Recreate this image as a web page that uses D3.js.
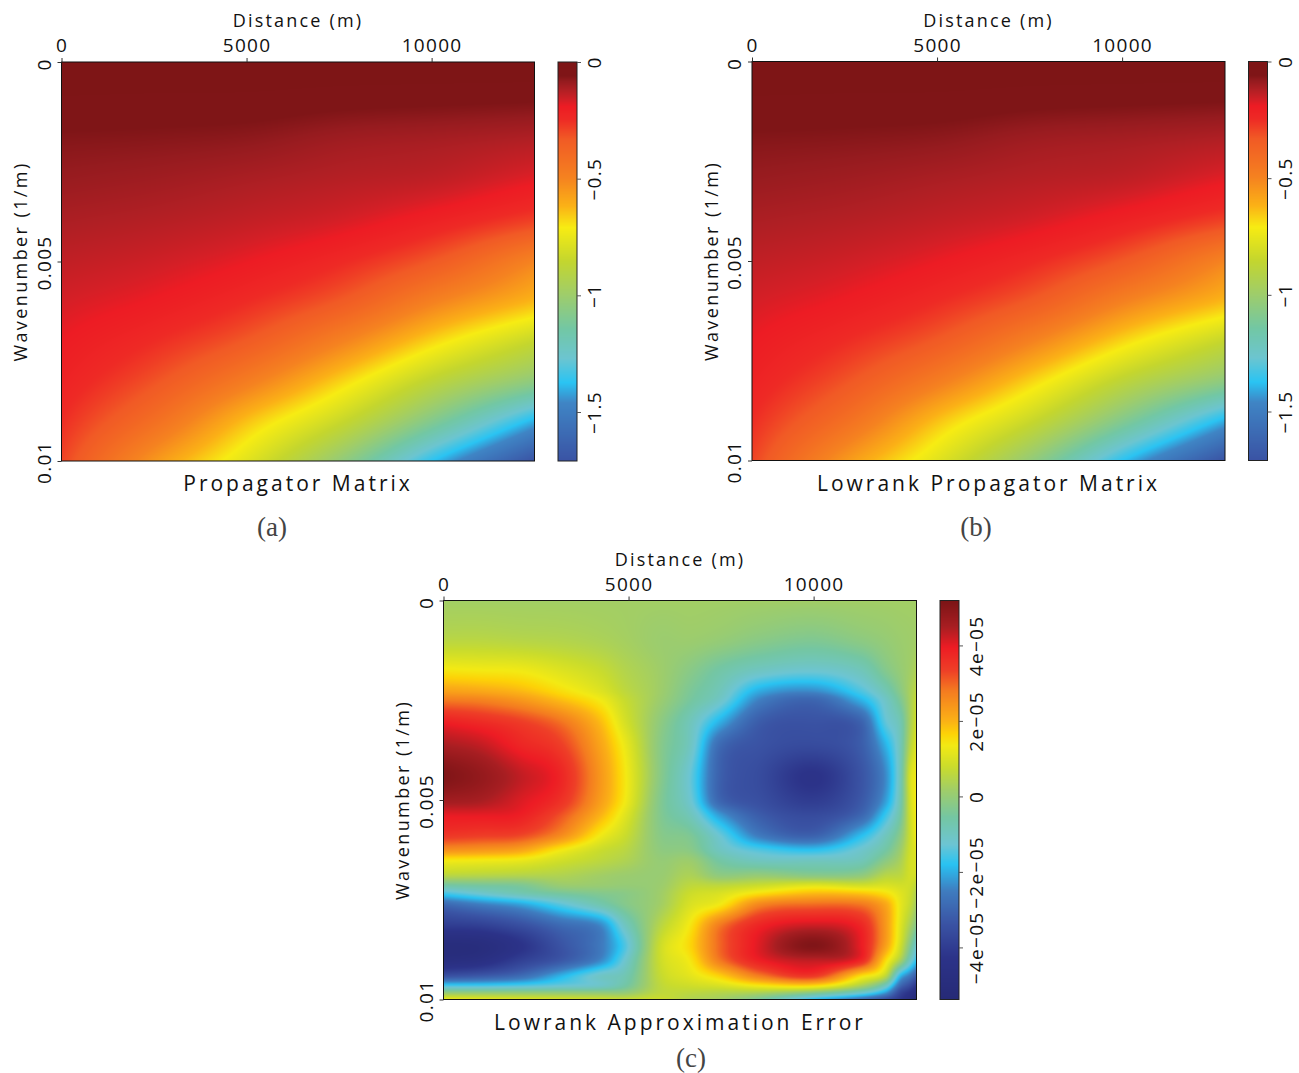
<!DOCTYPE html>
<html><head><meta charset="utf-8">
<style>html,body{margin:0;padding:0;background:#fff}svg{display:block}</style>
<script src="https://cdn.jsdelivr.net/npm/d3@7/dist/d3.min.js"></script>
</head><body><svg id="c" width="1299" height="1073"></svg>
<script>
// ---- data ----
const distanceTicks = [0, 5000, 10000];
const wavenumberTicks = [0, 0.005, 0.01];
const wavenumberLabels = ["0", "0.005", "0.01"];
const distanceMax = 12780;

// Propagator phase (panels a, b)
const propDistance = [0, 2556, 5112, 7668, 10224, 12780];
const propWavenumber = [0, .001, .002, .003, .004, .005, .006, .007, .008, .009, .01];
const propagatorValues = [
  [0, 0, 0, 0, 0, 0],
  [-.035, -.038, -.04, -.05, -.055, -.06],
  [-.068, -.072, -.08, -.10, -.11, -.125],
  [-.09, -.10, -.115, -.13, -.145, -.185],
  [-.115, -.127, -.145, -.17, -.22, -.29],
  [-.14, -.158, -.19, -.245, -.34, -.50],
  [-.165, -.195, -.25, -.34, -.50, -.63],
  [-.19, -.25, -.34, -.50, -.69, -.85],
  [-.215, -.32, -.48, -.68, -.89, -1.05],
  [-.25, -.42, -.65, -.85, -1.11, -1.40],
  [-.29, -.555, -.78, -1.05, -1.40, -1.71]
];
const lowrankValues = propagatorValues;

const propStops = [0, -.06, -.085, -.12, -.165, -.19, -.246, -.33, -.496, -.617, -.71, -.853, -.996, -1.146, -1.27, -1.374, -1.46, -1.71];
const propColors = ["#7e1516", "#7f1517", "#961b1f", "#b01f24", "#d41f26", "#ed1c24", "#ee2a25", "#f15a25", "#f58220", "#fbb116", "#f7ec13", "#c4d62e", "#9fcd6a", "#72c7a5", "#6cc5d0", "#2ac4f3", "#3f85c5", "#3a53a4"];
const propTicks = [0, -.5, -1, -1.5];
const propTickLabels = ["0", "\u22120.5", "\u22121", "\u22121.5"];

// Approximation error, units of 1e-5 (panel c)
const errDistance = [0, 985, 2068, 3149, 4230, 4905, 5851, 6662, 7473, 8554, 9986, 11257, 11932, 12338, 12608, 12780];
const errWavenumber = [0, .00099, .00174, .00225, .0025, .00305, .00363, .00438, .00501, .00538, .00588, .00625, .00651, .00689, .00714, .00734, .00764, .00814, .00864, .00902, .0094, .00965, .00982, .01];
const errorValues = [
  [.2,.2,.2,.2,.2,.2,.2,.2,.2,.2,.2,.2,.2,.2,.2,.2],
  [.55,.55,.5,.45,.35,.25,.1,.1,0,-.2,-.35,-.15,0,.1,.15,.2],
  [1.4,1.35,1.3,1.05,.75,.45,.15,-.2,-.6,-1,-1.2,-.9,-.3,0,.2,.4],
  [2.2,2.1,1.9,1.5,1.05,.6,.15,-.4,-.9,-2,-2.3,-1.5,-.8,-.2,.3,.6],
  [2.8,2.7,2.4,1.9,1.35,.75,.1,-.5,-1.1,-2.5,-3,-2,-1.1,-.4,.3,.75],
  [3.9,3.7,3.4,2.9,1.9,.95,-.1,-.9,-2,-3.2,-3.4,-3.1,-1.4,-.8,.3,.9],
  [4.5,4.3,3.8,3.4,2.2,1.25,-.2,-1,-2.9,-3.4,-3.6,-3.2,-2,-.9,.5,1.1],
  [5.1,4.8,4.3,3.8,2.4,1.4,-.2,-1.3,-3.1,-3.6,-4.3,-3.4,-2.4,-.9,.95,1.3],
  [4.6,4.5,4.1,3.6,2.3,1.35,-.3,-1.2,-3,-3.5,-4,-3.3,-2.2,-.8,.9,1.4],
  [4,4,3.9,3.2,2,1.1,-.3,-.9,-2.2,-3.2,-3.6,-3,-1.7,-.6,.85,1.35],
  [3.5,3.4,3.3,2.6,1.35,.8,-.2,-.4,-1.3,-2.6,-3.1,-1.9,-1,-.2,.8,1.3],
  [2.5,2.4,2.2,1.4,.8,.55,-.1,-.2,-1,-1.5,-1.8,-1.2,-.6,.1,.85,1.1],
  [1.4,1.35,1.25,.9,.6,.4,0,.1,-.6,-1,-1,-.9,-.2,.3,.9,1],
  [.55,.5,.45,.4,.2,.1,.05,.35,-.1,0,-.2,-.1,.5,.6,.9,.9],
  [-.6,-.5,-.4,.05,.05,0,.1,.6,.6,.8,1.1,.9,1,.9,.85,.6],
  [-1.6,-1.2,-.8,-.5,-.3,-.2,.15,.8,1,1.5,1.9,1.8,1.5,1.1,.8,.4],
  [-3,-2.6,-2.2,-1.5,-.8,-.3,.2,1,1.4,2.7,3,2.9,2.2,1.2,.7,.2],
  [-4,-3.9,-3.5,-2.9,-2.4,-1,.5,1.4,2.8,3.8,4.2,3.8,2.4,1.1,.3,-.3],
  [-5,-4.9,-4.3,-3.4,-2.6,-1.5,.8,1.6,3,4.1,5.1,4,2.3,.9,-.3,-1.2],
  [-4.8,-4.6,-3.9,-3.3,-2.4,-1.2,.8,1.4,2.8,3.9,4.3,3.8,1.6,.3,-1,-1.8],
  [-3.5,-3.3,-2.9,-2,-1.1,-.8,.7,1.15,1.7,2.8,3.5,1.6,.7,-1.8,-2.6,-3.2],
  [-1.6,-1.6,-1.5,-1.3,-1.1,-.6,.6,.85,1,1.4,1.6,.4,-.9,-2.9,-3.6,-4.2],
  [-.1,-.1,-.1,-.1,-.1,-.05,.6,.6,.5,.4,-.1,-1,-2.1,-3.7,-4.3,-4.8],
  [1.3,1.2,1.1,1,.9,.8,.8,.4,.2,-.5,-1.9,-2.9,-3.6,-4.2,-4.8,-5.3]
];
const errStops = [5.19, 4.49, 3.95, 3.34, 2.8, 2, 1.65, 1.35, .77, .15, -.56, -1.27, -1.8, -2.5, -3.39, -4.27, -5.38];
const errColors = ["#7b1416", "#a81e22", "#ed1c24", "#ee3f27", "#f47b20", "#fbb116", "#fdd307", "#f3ea14", "#c9dc2d", "#9fcd6a", "#74c6a3", "#6dc5d3", "#29c3f2", "#3f7dc0", "#3a53a4", "#2c3389", "#262a76"];
const errTicks = [4, 2, 0, -2, -4];
const errTickLabels = ["4e\u221205", "2e\u221205", "0", "\u22122e\u221205", "\u22124e\u221205"];

const panels = [
  {x0: 61.5, y0: 62, title: "Propagator Matrix", tag: "(a)", tagX: 272, tagY: 527, xs: propDistance, ys: propWavenumber, z: propagatorValues,
   stops: propStops, colors: propColors, vMax: 0, vMin: -1.71, ticks: propTicks, tickLabels: propTickLabels},
  {x0: 752, y0: 61.5, title: "Lowrank Propagator Matrix", tag: "(b)", tagX: 976, tagY: 527, xs: propDistance, ys: propWavenumber, z: lowrankValues,
   stops: propStops, colors: propColors, vMax: 0, vMin: -1.71, ticks: propTicks, tickLabels: propTickLabels},
  {x0: 443.5, y0: 600.5, title: "Lowrank Approximation Error", tag: "(c)", tagX: 691, tagY: 1058, xs: errDistance, ys: errWavenumber, z: errorValues,
   stops: errStops, colors: errColors, vMax: 5.19, vMin: -5.38, ticks: errTicks, tickLabels: errTickLabels}
];

// ---- drawing ----
const W = 473, H = 399, SANS = "'Open Sans','DejaVu Sans',sans-serif";
const svg = d3.select("#c");

function hermite(xs, ys, x) {
  const n = xs.length;
  let i = d3.bisectRight(xs, x) - 1;
  i = Math.max(0, Math.min(n - 2, i));
  const h = xs[i + 1] - xs[i], t = (x - xs[i]) / h;
  const slope = j => (ys[Math.min(n - 1, j + 1)] - ys[Math.max(0, j - 1)]) / (xs[Math.min(n - 1, j + 1)] - xs[Math.max(0, j - 1)]);
  const m0 = slope(i) * h, m1 = slope(i + 1) * h, t2 = t * t, t3 = t2 * t;
  return (2*t3 - 3*t2 + 1) * ys[i] + (t3 - 2*t2 + t) * m0 + (-2*t3 + 3*t2) * ys[i + 1] + (t3 - t2) * m1;
}

panels.forEach(p => {
  const g = svg.append("g").attr("transform", `translate(${p.x0},${p.y0})`);
  const xScale = d3.scaleLinear().domain([0, distanceMax]).range([0, W]);
  const yScale = d3.scaleLinear().domain([0, 0.01]).range([0, H]);
  const color = d3.scaleLinear().domain(p.stops.slice().reverse()).range(p.colors.slice().reverse()).interpolate(d3.interpolateRgb).clamp(true);

  // field image
  const cv = document.createElement("canvas"); cv.width = W; cv.height = H;
  const ctx = cv.getContext("2d"), img = ctx.createImageData(W, H);
  const nCols = p.xs.length;
  for (let py = 0; py < H; py++) {
    const k = yScale.invert(py + .5);
    const col = d3.range(nCols).map(c => hermite(p.ys, p.z.map(r => r[c]), k));
    for (let px = 0; px < W; px++) {
      const c = d3.rgb(color(hermite(p.xs, col, xScale.invert(px + .5))));
      const o = (py * W + px) * 4;
      img.data[o] = c.r; img.data[o+1] = c.g; img.data[o+2] = c.b; img.data[o+3] = 255;
    }
  }
  ctx.putImageData(img, 0, 0);
  g.append("image").attr("width", W).attr("height", H).attr("href", cv.toDataURL());
  g.append("rect").attr("width", W).attr("height", H).attr("fill", "none").attr("stroke", "#111").attr("stroke-width", 1);

  // axes
  const xAxis = d3.axisTop(xScale).tickValues(distanceTicks).tickFormat(d3.format("d")).tickSize(4).tickPadding(3);
  const ax = g.append("g").call(xAxis);
  ax.select(".domain").remove();
  ax.selectAll("line").attr("stroke", "#333");
  ax.selectAll("text").attr("font-family", SANS).attr("font-size", 19).attr("fill", "#111").attr("letter-spacing", 1.3).attr("y", -10);

  const yAxis = d3.axisLeft(yScale).tickValues(wavenumberTicks).tickFormat((d, i) => wavenumberLabels[i]).tickSize(4);
  const ay = g.append("g").call(yAxis);
  ay.select(".domain").remove();
  ay.selectAll("line").attr("stroke", "#333");
  ay.selectAll("text").attr("font-family", SANS).attr("font-size", 19).attr("fill", "#111").attr("letter-spacing", 1.3)
    .attr("text-anchor", "middle").attr("dy", 0).attr("x", 0).attr("y", 0)
    .attr("transform", d => `translate(-18,${d === 0 ? 2 : 1}) rotate(-90)`).attr("dominant-baseline", "central");

  const label = (t, x, y, size, ls, rot) => g.append("text").text(t).attr("text-anchor", "middle").attr("dominant-baseline", "central")
    .attr("font-family", SANS).attr("font-size", size).attr("letter-spacing", ls).attr("fill", "#111")
    .attr("transform", `translate(${x},${y})` + (rot ? " rotate(-90)" : ""));
  label("Distance (m)", W / 2, -42, 18, 2.2, false);
  label("Wavenumber (1/m)", -41.5, H / 2, 18, 2.4, true);
  label(p.title, W / 2, 421, 21, 3, false);

  svg.append("text").text(p.tag).attr("x", p.tagX).attr("y", p.tagY).attr("text-anchor", "middle").attr("dominant-baseline", "central")
    .attr("font-family", "'Liberation Serif',serif").attr("font-size", 27).attr("fill", "#444");

  // colour bar
  const cb = g.append("g").attr("transform", `translate(${W + 23.5},0)`);
  const barScale = d3.scaleLinear().domain([p.vMax, p.vMin]).range([0, H]);
  const bar = document.createElement("canvas"); bar.width = 1; bar.height = H;
  const bctx = bar.getContext("2d");
  d3.range(H).forEach(py => { bctx.fillStyle = color(barScale.invert(py + .5)); bctx.fillRect(0, py, 1, 1); });
  cb.append("image").attr("width", 19).attr("height", H).attr("preserveAspectRatio", "none").attr("href", bar.toDataURL());
  cb.append("rect").attr("width", 19).attr("height", H).attr("fill", "none").attr("stroke", "#222").attr("stroke-width", 1);
  const cAxis = d3.axisRight(barScale).tickValues(p.ticks).tickFormat((d, i) => p.tickLabels[i]).tickSize(4);
  const ac = cb.append("g").attr("transform", "translate(19,0)").call(cAxis);
  ac.select(".domain").remove();
  ac.selectAll("line").attr("stroke", "#555");
  ac.selectAll("text").attr("font-family", SANS).attr("font-size", 19).attr("fill", "#111").attr("letter-spacing", 1.3)
    .attr("text-anchor", "middle").attr("dy", 0).attr("x", 0).attr("y", 0).attr("dominant-baseline", "central")
    .attr("transform", "translate(17,0) rotate(-90)");
});
</script></body></html>
